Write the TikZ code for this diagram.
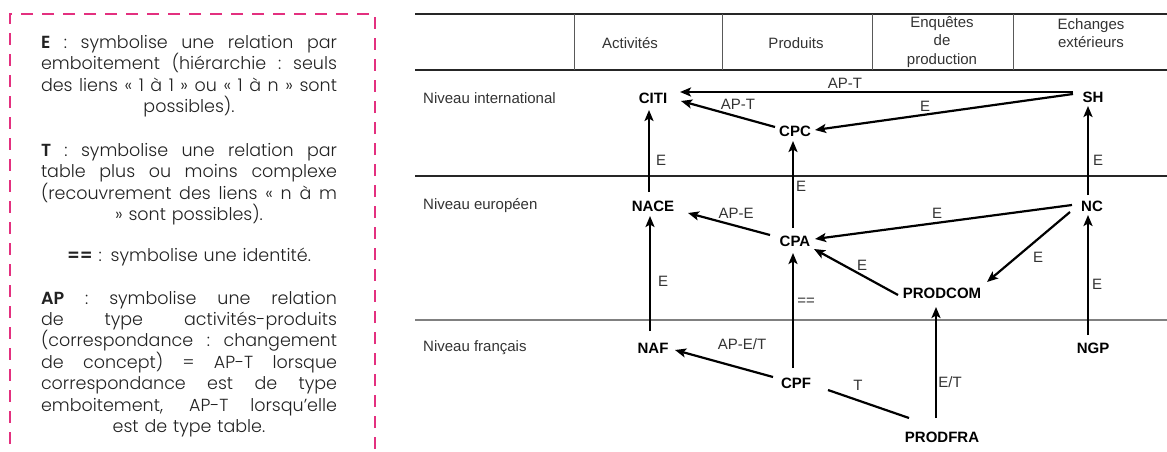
\documentclass[tikz,border=0pt]{standalone}
\usepackage{fontspec}
\setmainfont{Liberation Sans}
\newfontfamily\boxfont{Poppins}[UprightFont=* Light, BoldFont=* SemiBold]
\usetikzlibrary{arrows.meta}
\definecolor{pinkdash}{HTML}{E3307F}
\definecolor{txtgray}{HTML}{333333}
\definecolor{boxtxt}{HTML}{222222}
\newcommand{\jl}[1]{\leavevmode\hbox to 296pt{\spaceskip=\fontdimen2\font plus 1fil\relax\xspaceskip=\spaceskip #1}}
\begin{document}
\begin{tikzpicture}[x=1pt,y=-1pt,
  lab/.style={font=\fontsize{15}{18.5}\selectfont, text=txtgray, inner sep=0pt},
  cls/.style={font=\bfseries\fontsize{15}{18}\selectfont, inner sep=0pt},
  arr/.style={line width=2.2pt, -{Stealth[length=11pt,width=9pt,inset=2.5pt]}},
  link/.style={line width=2.2pt},
  para/.style={font=\boxfont\fontsize{17.5}{21.4}\selectfont, text=boxtxt, text width=296pt, align=center, inner sep=0pt},
  grid/.style={line width=1.2pt, black!85},
  colsep/.style={line width=1pt, black!65},
]
\useasboundingbox (0,0) rectangle (1167,452);

% legend box
\draw[pinkdash, line width=2.5pt, dash pattern=on 12pt off 9pt] (375,470) -- (375,14) -- (10,14) -- (10,470);
\node[para] (p1) at (189,76) {\jl{\textbf{E} : symbolise une relation par}\\ \jl{emboitement (hiérarchie : seuls}\\ \jl{des liens « 1 à 1 » ou « 1 à n » sont}\\ possibles).};
\node[para] (p2) at (189,184) {\jl{\textbf{T} : symbolise une relation par}\\ \jl{table plus ou moins complexe}\\ \jl{(recouvrement des liens « n à m}\\ » sont possibles).};
\node[para] (p3) at (189,257) {\textbf{==} : symbolise une identité.};
\node[para] (p4) at (189,364) {\jl{\textbf{AP} : symbolise une relation}\\ \jl{de type activités-produits}\\ \jl{(correspondance : changement}\\ \jl{de concept) = AP-T lorsque}\\ \jl{correspondance est de type}\\ \jl{emboitement, AP-T lorsqu’elle}\\ est de type table.};

% table grid
\draw[grid] (415,14) -- (1167,14);
\draw[grid] (415,70) -- (1167,70);
\draw[grid] (415,176) -- (1167,176);
\draw[line width=2pt, black!50] (415,320) -- (1167,320);
\foreach \cx in {574,722,872,1013} \draw[colsep] (\cx,14) -- (\cx,70);

% headers
\node[lab] (hact) at (630,43) {Activités};
\node[lab] (hprod) at (796,43) {Produits};
\node[lab, align=center] (henq) at (942,42) {Enquêtes\\de\\production};
\node[lab, align=center] (hech) at (1091,33) {Echanges\\extérieurs};

% row labels
\node[lab, anchor=west] (rint) at (423,98) {Niveau international};
\node[lab, anchor=west] (reur) at (423,206) {Niveau européen};
\node[lab, anchor=west] (rfra) at (423,348) {Niveau français};

% classifications
\node[cls] (citi) at (653,98) {CITI};
\node[cls] (cpc) at (795,131) {CPC};
\node[cls] (sh) at (1093,97) {SH};
\node[cls] (nace) at (653,206) {NACE};
\node[cls] (cpa) at (795,241) {CPA};
\node[cls] (nc) at (1092,206) {NC};
\node[cls] (prodcom) at (942,293) {PRODCOM};
\node[cls] (naf) at (653,348) {NAF};
\node[cls] (cpf) at (796,383) {CPF};
\node[cls] (ngp) at (1093,348) {NGP};
\node[cls] (prodfra) at (942,437) {PRODFRA};

% connectors
\draw[arr] ([xshift=-20pt,yshift=5pt]sh.center) -- ([xshift=27pt,yshift=6pt]citi.center);
\draw[arr] ([xshift=-20pt,yshift=4pt]cpc.center) -- ([xshift=28pt,yshift=-3pt]citi.center);
\draw[arr] ([xshift=-20pt,yshift=3pt]sh.center) -- ([xshift=20pt,yshift=1pt]cpc.center);
\draw[arr] ([xshift=-4pt,yshift=14pt]nace.center) -- ([xshift=-4pt,yshift=-12pt]citi.center);
\draw[arr] ([xshift=-2pt,yshift=13pt]cpa.center) -- ([xshift=-2pt,yshift=-10pt]cpc.center);
\draw[arr] ([xshift=-4pt,yshift=11pt]nc.center) -- ([xshift=-5pt,yshift=-9pt]sh.center);
\draw[arr] ([xshift=-25pt,yshift=6pt]cpa.center) -- ([xshift=35pt,yshift=-7pt]nace.center);
\draw[arr] ([xshift=-20pt,yshift=1pt]nc.center) -- ([xshift=20pt,yshift=2pt]cpa.center);
\draw[arr] ([xshift=-22pt,yshift=-6pt]nc.center) -- ([xshift=45pt,yshift=11pt]prodcom.center);
\draw[arr] ([xshift=-44pt,yshift=-2pt]prodcom.center) -- ([xshift=19pt,yshift=-8pt]cpa.center);
\draw[arr] ([xshift=-3pt,yshift=17pt]naf.center) -- ([xshift=-3pt,yshift=-10pt]nace.center);
\draw[arr] ([xshift=-3pt,yshift=15pt]cpf.center) -- ([xshift=-2pt,yshift=-12pt]cpa.center);
\draw[arr] ([xshift=-5pt,yshift=13pt]ngp.center) -- ([xshift=-4pt,yshift=-9pt]nc.center);
\draw[arr] ([xshift=-23pt,yshift=6pt]cpf.center) -- ([xshift=22pt,yshift=-2pt]naf.center);
\draw[link] ([xshift=32pt,yshift=-7pt]cpf.center) -- ([xshift=-33pt,yshift=19pt]prodfra.center);
\draw[arr] ([xshift=-6pt,yshift=19pt]prodfra.center) -- ([xshift=-6pt,yshift=-14pt]prodcom.center);

% connector labels
\node[lab] (l1) at (845,83) {AP-T};
\node[lab] (l2) at (738,104) {AP-T};
\node[lab] (l3) at (925,106) {E};
\node[lab] (l4) at (661,160) {E};
\node[lab] (l5) at (801,186) {E};
\node[lab] (l6) at (1098,160) {E};
\node[lab] (l7) at (736,213) {AP-E};
\node[lab] (l8) at (937,213) {E};
\node[lab] (l9) at (1038,257) {E};
\node[lab] (l10) at (862,265) {E};
\node[lab] (l11) at (663,281) {E};
\node[lab] (l12) at (806,302) {==};
\node[lab] (l13) at (1097,284) {E};
\node[lab] (l14) at (742,344) {AP-E/T};
\node[lab] (l15) at (858,385) {T};
\node[lab] (l16) at (950,382) {E/T};
\end{tikzpicture}
\end{document}
